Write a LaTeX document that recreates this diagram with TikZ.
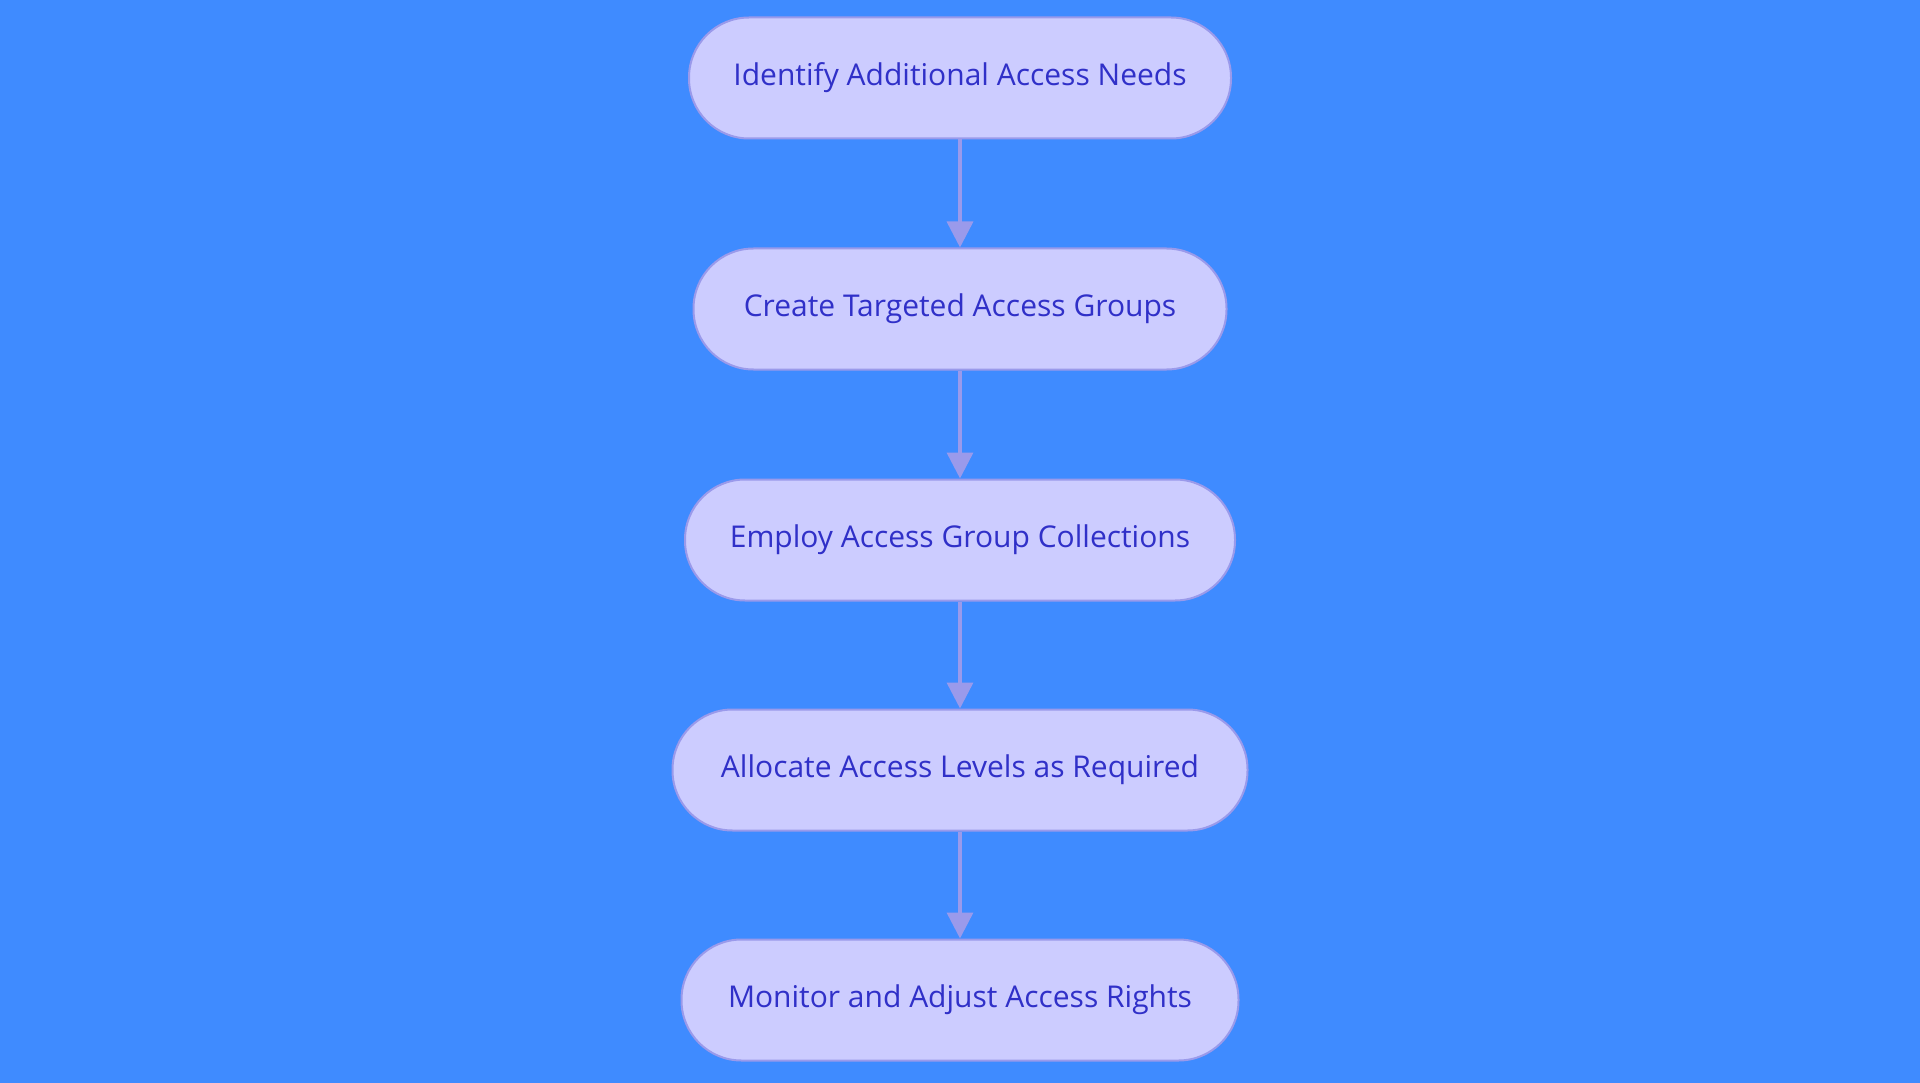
\documentclass[tikz,border=0pt]{standalone}
\usepackage{fontspec}
\setmainfont{Open Sans}
\usetikzlibrary{arrows.meta}
\definecolor{bg}{HTML}{3F8BFF}
\definecolor{boxfill}{HTML}{CCCCFF}
\definecolor{boxline}{HTML}{9A9AEB}
\definecolor{txt}{HTML}{3030C8}
\begin{document}
\begin{tikzpicture}[x=1pt,y=-1pt,
  stepbox/.style={draw=boxline, line width=2pt, fill=boxfill, rounded corners=60pt,
    minimum height=121pt, inner sep=0pt, text=txt,
    font=\fontsize{30}{36}\selectfont},
  flow/.style={draw=boxline, line width=3.5pt, -{Triangle[length=26pt,width=26pt]}}]
\fill[bg] (0,0) rectangle (1920,1083);
\useasboundingbox (0,0) rectangle (1920,1083);
\node[stepbox, minimum width=542pt] (n1) at (960,78) {Identify Additional Access Needs};
\node[stepbox, minimum width=533pt] (n2) at (960,309) {Create Targeted Access Groups};
\node[stepbox, minimum width=550pt] (n3) at (960,540) {Employ Access Group Collections};
\node[stepbox, minimum width=575pt] (n4) at (960,770) {Allocate Access Levels as Required};
\node[stepbox, minimum width=557pt] (n5) at (960,1000) {Monitor and Adjust Access Rights};
\draw[flow] (n1) -- (n2);
\draw[flow] (n2) -- (n3);
\draw[flow] (n3) -- (n4);
\draw[flow] (n4) -- (n5);
\end{tikzpicture}
\end{document}
